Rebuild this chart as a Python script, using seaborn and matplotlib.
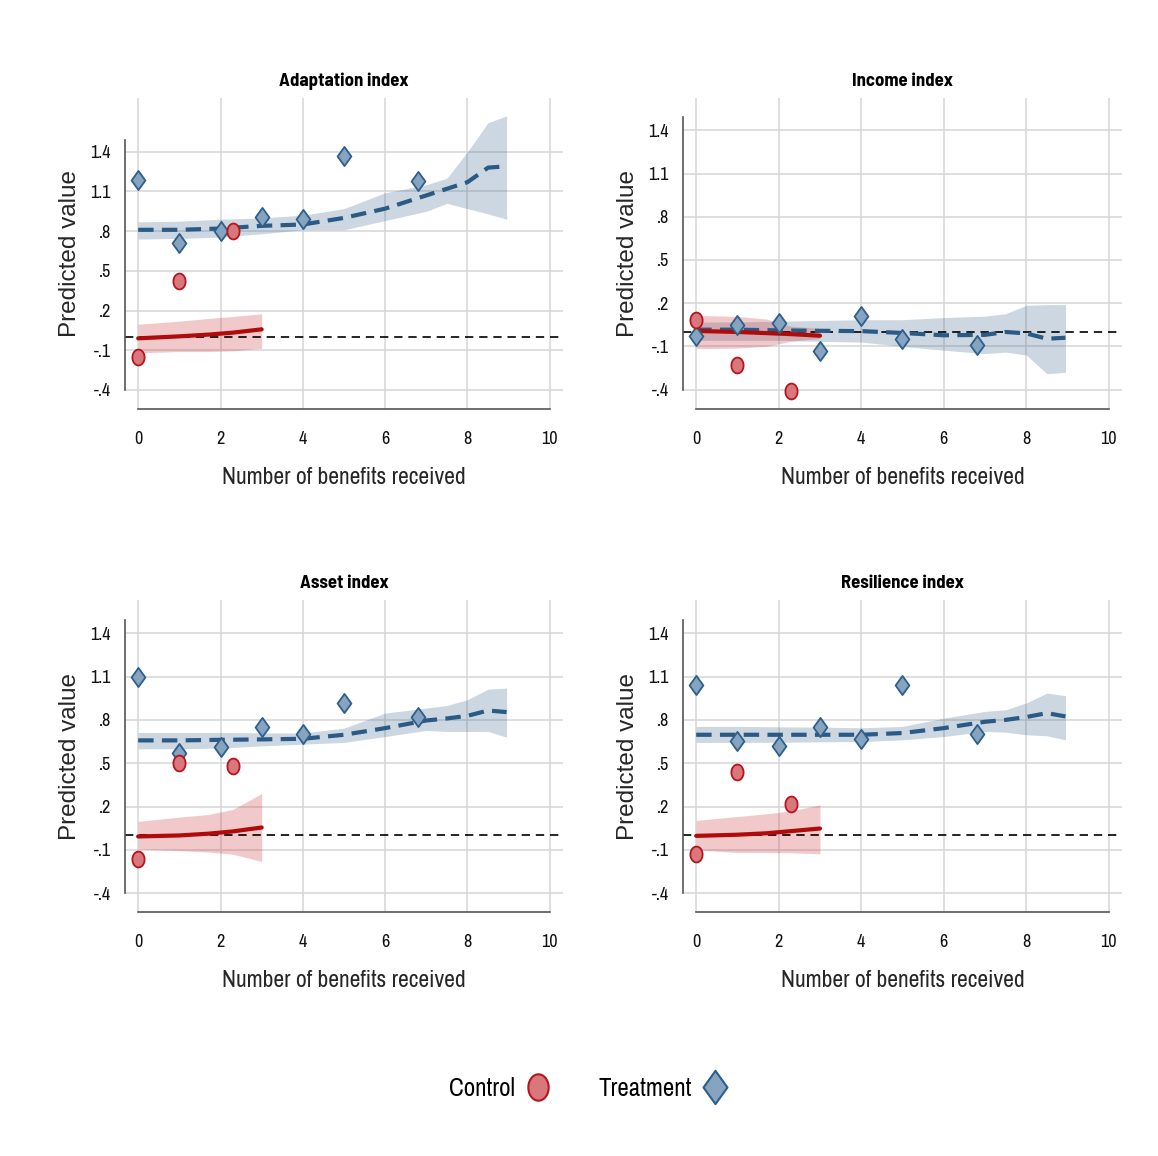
import numpy as np
import seaborn as sns
import matplotlib.pyplot as plt
from matplotlib.path import Path
from matplotlib.lines import Line2D

# observed group means (binned)
treat_x = [0, 1, 2, 3, 4, 5, 6.8]
ctrl_x = [0, 1, 2.3]

adapt_treat = [1.19, 0.71, 0.80, 0.91, 0.89, 1.37, 1.18]
adapt_ctrl = [-0.15, 0.42, 0.80]
income_treat = [-0.03, 0.05, 0.06, -0.13, 0.11, -0.05, -0.09]
income_ctrl = [0.08, -0.23, -0.41]
asset_treat = [1.10, 0.57, 0.61, 0.75, 0.70, 0.92, 0.82]
asset_ctrl = [-0.16, 0.50, 0.48]
resil_treat = [1.04, 0.655, 0.62, 0.75, 0.67, 1.04, 0.70]
resil_ctrl = [-0.13, 0.44, 0.22]

# fitted curves with confidence bands
fit_x = [0, 1, 2, 3, 4, 5, 6, 7, 7.5, 8, 8.5, 8.95]
ctrl_fit_x = [0, 1, 1.7, 2.3, 3]

adapt_fit = [0.81, 0.81, 0.82, 0.84, 0.85, 0.90, 0.97, 1.07, 1.12, 1.17, 1.28, 1.29]
adapt_lo = [0.74, 0.745, 0.755, 0.78, 0.81, 0.81, 0.88, 0.95, 1.01, 0.97, 0.93, 0.89]
adapt_hi = [0.87, 0.875, 0.89, 0.90, 0.92, 0.97, 1.09, 1.15, 1.20, 1.40, 1.62, 1.67]
adapt_cfit = [-0.01, 0.005, 0.018, 0.033, 0.058]
adapt_clo = [-0.12, -0.11, -0.11, -0.105, -0.085]
adapt_chi = [0.096, 0.12, 0.14, 0.155, 0.175]

income_fit = [0.016, 0.016, 0.011, 0.008, 0.006, -0.007, -0.023, -0.02, 0.0, -0.01, -0.047, -0.04]
income_lo = [-0.058, -0.058, -0.058, -0.065, -0.07, -0.10, -0.127, -0.15, -0.14, -0.16, -0.29, -0.28]
income_hi = [0.069, 0.07, 0.075, 0.08, 0.085, 0.085, 0.10, 0.11, 0.127, 0.185, 0.19, 0.19]
income_cfit = [0.007, 0.0, -0.008, -0.015, -0.026]
income_clo = [-0.116, -0.112, -0.10, -0.065, -0.045]
income_chi = [0.115, 0.108, 0.09, 0.04, 0.025]

asset_fit = [0.658, 0.658, 0.662, 0.665, 0.669, 0.697, 0.743, 0.796, 0.81, 0.828, 0.865, 0.854]
asset_lo = [0.60, 0.60, 0.605, 0.62, 0.632, 0.644, 0.685, 0.727, 0.72, 0.72, 0.72, 0.68]
asset_hi = [0.713, 0.713, 0.713, 0.71, 0.709, 0.743, 0.847, 0.882, 0.90, 0.94, 1.013, 1.02]
asset_cfit = [-0.007, 0.0, 0.012, 0.028, 0.055]
asset_clo = [-0.095, -0.105, -0.115, -0.13, -0.18]
asset_chi = [0.097, 0.127, 0.145, 0.18, 0.29]

resil_fit = [0.697, 0.697, 0.697, 0.697, 0.697, 0.709, 0.743, 0.787, 0.80, 0.82, 0.847, 0.824]
resil_lo = [0.644, 0.644, 0.645, 0.648, 0.65, 0.662, 0.685, 0.72, 0.715, 0.697, 0.69, 0.662]
resil_hi = [0.755, 0.755, 0.752, 0.75, 0.745, 0.755, 0.812, 0.859, 0.87, 0.917, 0.986, 0.967]
resil_cfit = [-0.003, 0.005, 0.015, 0.03, 0.048]
resil_clo = [-0.10, -0.118, -0.118, -0.12, -0.127]
resil_chi = [0.104, 0.131, 0.15, 0.17, 0.212]

titles = ["Adaptation index", "Income index", "Asset index", "Resilience index"]
yticks = [1.4, 1.1, 0.8, 0.5, 0.2, -0.1, -0.4]
ytick_labels = ["1.4", "1.1", ".8", ".5", ".2", "-.1", "-.4"]
xticks = [0, 2, 4, 6, 8, 10]

sns.set_style("white")
NARROW = ["Archivo Narrow", "DejaVu Sans"]
BOLD_NARROW = ["Barlow Semi Condensed", "DejaVu Sans"]
plt.rcParams["font.family"] = NARROW
plt.rcParams["text.color"] = "black"

blue = "#2b5a85"
red = "#b00a0a"

# slightly tall markers, like the original
t = np.linspace(0, 2 * np.pi, 64)
ellipse = Path(np.column_stack([0.77 * np.cos(t), np.sin(t)]), closed=True)
diamond = Path([(0, 1), (0.72, 0), (0, -1), (-0.72, 0), (0, 1)], closed=True)

fig = plt.figure(figsize=(11.58, 11.56), dpi=100)
W, H = 1158, 1156
boxes = [(125, 98, 563, 409), (683, 98, 1122, 409),
         (125, 600, 563, 912), (683, 600, 1122, 912)]
ylims = [(-0.544, 1.806), (-0.535, 1.625), (-0.53, 1.63), (-0.53, 1.63)]

panels = [
    (adapt_treat, adapt_ctrl, adapt_fit, adapt_lo, adapt_hi, adapt_cfit, adapt_clo, adapt_chi),
    (income_treat, income_ctrl, income_fit, income_lo, income_hi, income_cfit, income_clo, income_chi),
    (asset_treat, asset_ctrl, asset_fit, asset_lo, asset_hi, asset_cfit, asset_clo, asset_chi),
    (resil_treat, resil_ctrl, resil_fit, resil_lo, resil_hi, resil_cfit, resil_clo, resil_chi),
]

for i, (tr, ct, fit, lo, hi, cfit, clo, chi) in enumerate(panels):
    l, tp, r, b = boxes[i]
    ax = fig.add_axes([l / W, 1 - b / H, (r - l) / W, (b - tp) / H])

    ax.fill_between(fit_x, lo, hi, color=blue, alpha=0.24, lw=0, zorder=1)
    ax.fill_between(ctrl_fit_x, clo, chi, color="#cc2a33", alpha=0.25, lw=0, zorder=1.5)
    ax.axhline(0, color="black", lw=1.2, ls=(0, (5, 3.5)), zorder=2)

    sns.lineplot(x=fit_x, y=fit, ax=ax, color=blue, lw=3, ls=(0, (3.7, 2)), zorder=3)
    sns.lineplot(x=ctrl_fit_x, y=cfit, ax=ax, color=red, lw=3, zorder=3)

    sns.scatterplot(x=treat_x, y=tr, ax=ax, marker=diamond, s=190, color="#86a3c0",
                    edgecolor="#2e5f8a", linewidth=1.3, zorder=4)
    sns.scatterplot(x=ctrl_x, y=ct, ax=ax, marker=ellipse, s=130, color="#d8777c",
                    edgecolor="#b8141c", linewidth=1.3, zorder=5)

    ax.set_xlim(-0.32, 10.32)
    ax.set_ylim(*ylims[i])
    ax.set_xticks(xticks)
    ax.set_xticklabels([str(v) for v in xticks])
    ax.set_yticks(yticks)
    ax.set_yticklabels(ytick_labels)
    ax.grid(True, color="#d6d6d6", lw=1.1)
    ax.set_axisbelow(True)

    for side in ["top", "right"]:
        ax.spines[side].set_visible(False)
    for side in ["left", "bottom"]:
        ax.spines[side].set_color("#555555")
        ax.spines[side].set_linewidth(1.2)
    ax.spines["left"].set_bounds(-0.4, 1.49)
    ax.spines["bottom"].set_bounds(0, 10)

    ax.tick_params(axis="both", direction="out", length=7, width=1.1,
                   color="#555555", labelsize=13, labelcolor="#111111")
    ax.tick_params(axis="y", pad=3)
    ax.tick_params(axis="x", pad=9)

    ax.set_title(titles[i], fontsize=13.5, fontweight="bold", pad=9, family=BOLD_NARROW)
    ax.set_xlabel("Number of benefits received", fontsize=17, labelpad=14)
    ax.set_ylabel("Predicted value", fontsize=17.5, labelpad=7,
                  family=["Liberation Sans", "DejaVu Sans"])

handles = [
    Line2D([], [], ls="", marker=ellipse, markersize=19, markerfacecolor="#d8777c",
           markeredgecolor="#b8141c", markeredgewidth=1.5),
    Line2D([], [], ls="", marker=diamond, markersize=24, markerfacecolor="#86a3c0",
           markeredgecolor="#2e5f8a", markeredgewidth=1.5),
]
fig.legend(handles, ["Control", "Treatment"], loc="center",
           bbox_to_anchor=(587 / W, 1 - 1088 / H), ncol=2, frameon=False,
           markerfirst=False, fontsize=18, handlelength=0.8, handletextpad=0.55,
           columnspacing=2.0)

fig.savefig("out.png", dpi=100)
